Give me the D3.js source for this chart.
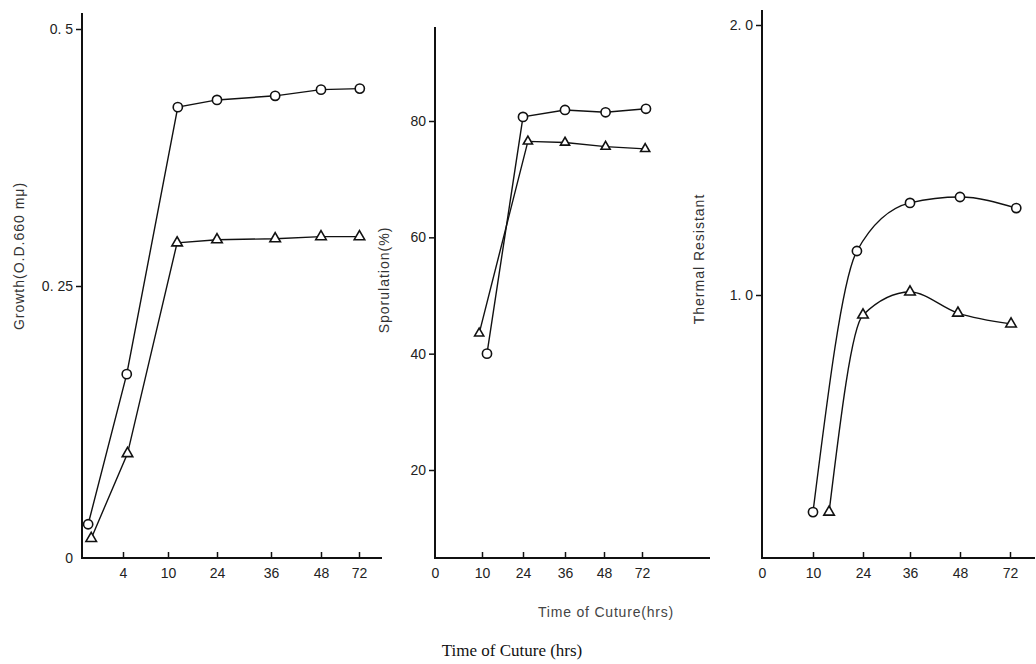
<!DOCTYPE html>
<html>
<head>
<meta charset="utf-8">
<script src="https://cdn.jsdelivr.net/npm/d3@7"></script>
<style>
  body { margin: 0; background: #fff; }
  svg { display: block; }
</style>
</head>
<body>
<svg id="chart"></svg>
<script>
// ---- data ----
// Growth (O.D. 660 mμ)
const growthCircleHours = [0.6, 4.5, 12.8, 24, 37, 48, 72.5];
const growthCircle = [0.031, 0.169, 0.424, 0.431, 0.435, 0.441, 0.442];
const growthTriangleHours = [0.9, 4.6, 12.6, 24, 37, 48, 72.3];
const growthTriangle = [0.018, 0.096, 0.292, 0.295, 0.296, 0.298, 0.298];

// Sporulation (%)
const sporCircleHours = [11.7, 24, 36, 49, 74.5];
const sporCircle = [40, 80.7, 81.9, 81.5, 82.1];
const sporTriangleHours = [9.4, 25.4, 36, 49, 74];
const sporTriangle = [43.5, 76.5, 76.3, 75.6, 75.2];

// Thermal resistant
const thermCircleHours = [10, 22.3, 36, 48, 75];
const thermCircle = [0.196, 1.163, 1.341, 1.363, 1.322];
const thermTriangleHours = [14.5, 24, 36, 47.5, 72.5];
const thermTriangle = [0.196, 0.926, 1.011, 0.933, 0.893];

// axis ticks
const growthXTicks = [4, 10, 24, 36, 48, 72];
const growthYTicks = [0, 0.25, 0.5];
const growthYLabels = ['0', '0. 25', '0. 5'];
const sporXTicks = [0, 10, 24, 36, 48, 72];
const sporYTicks = [20, 40, 60, 80];
const thermXTicks = [0, 10, 24, 36, 48, 72];
const thermYTicks = [1, 2];
const thermYLabels = ['1. 0', '2. 0'];

const width = 1036, height = 664;
const svg = d3.select('#chart').attr('width', width).attr('height', height);

const tickFont = 'Liberation Sans, Arial, sans-serif';

// the time axes are broken (not linear), so each panel uses a piecewise scale
const panels = [
  {
    xScale: d3.scaleLinear().domain([0, 4, 10, 24, 36, 48, 72]).range([82, 123, 168, 217, 271, 321, 359]),
    yScale: d3.scaleLinear().domain([0, 0.25, 0.5]).range([558, 286, 29]),
    left: 82, right: 382, top: 13, bottom: 558,
    xTicks: growthXTicks, yTicks: growthYTicks,
    yFormat: d => growthYLabels[growthYTicks.indexOf(d)],
    series: [
      { hours: growthCircleHours, values: growthCircle, shape: 'circle' },
      { hours: growthTriangleHours, values: growthTriangle, shape: 'triangle' }
    ],
    curve: d3.curveLinear,
    yLabel: 'Growth(O.D.660 mμ)', yLabelX: 20, yLabelY: 256,
    hideZeroYTick: true
  },
  {
    xScale: d3.scaleLinear().domain([0, 10, 24, 36, 48, 72]).range([435, 482, 523, 565, 604, 642]),
    yScale: d3.scaleLinear().domain([20, 80]).range([470, 121]),
    left: 435, right: 710, top: 27, bottom: 558,
    xTicks: sporXTicks, yTicks: sporYTicks,
    yFormat: d => d,
    series: [
      { hours: sporCircleHours, values: sporCircle, shape: 'circle' },
      { hours: sporTriangleHours, values: sporTriangle, shape: 'triangle', size: 36 }
    ],
    curve: d3.curveLinear,
    yLabel: 'Sporulation(%)', yLabelX: 385, yLabelY: 280
  },
  {
    xScale: d3.scaleLinear().domain([0, 10, 24, 36, 48, 72]).range([762, 813, 863, 910, 960, 1010]),
    yScale: d3.scaleLinear().domain([1, 2]).range([295, 25]),
    left: 762, right: 1035, top: 10, bottom: 558,
    xTicks: thermXTicks, yTicks: thermYTicks,
    yFormat: d => thermYLabels[thermYTicks.indexOf(d)],
    series: [
      { hours: thermCircleHours, values: thermCircle, shape: 'circle' },
      { hours: thermTriangleHours, values: thermTriangle, shape: 'triangle' }
    ],
    curve: d3.curveMonotoneX,
    yLabel: 'Thermal Resistant', yLabelX: 700, yLabelY: 259
  }
];

panels.forEach(p => {
  const g = svg.append('g');

  // x axis (ticks point up into the plot)
  const gx = g.append('g')
    .attr('transform', `translate(0, ${p.bottom})`)
    .call(d3.axisBottom(p.xScale).tickValues(p.xTicks).tickSize(-6).tickPadding(10).tickFormat(d3.format('d')));
  gx.select('.domain').remove();
  gx.selectAll('.tick line').attr('stroke', '#111').attr('stroke-width', 1.5)
    .filter(d => d === 0).remove();
  gx.selectAll('text').style('font-family', tickFont).style('font-size', '14px').attr('fill', '#222');

  // y axis
  const gy = g.append('g')
    .attr('transform', `translate(${p.left}, 0)`)
    .call(d3.axisLeft(p.yScale).tickValues(p.yTicks).tickSize(6).tickPadding(3).tickFormat(p.yFormat));
  gy.select('.domain').remove();
  gy.selectAll('.tick line').attr('stroke', '#111').attr('stroke-width', 1.5);
  if (p.hideZeroYTick) gy.selectAll('.tick line').filter(d => d === 0).remove();
  gy.selectAll('text').style('font-family', tickFont).style('font-size', '14px').attr('fill', '#222');

  // axis lines
  g.append('line')
    .attr('x1', p.left).attr('x2', p.left)
    .attr('y1', p.top).attr('y2', p.bottom + 1)
    .attr('stroke', '#111').attr('stroke-width', 2);
  g.append('line')
    .attr('x1', p.left - 1).attr('x2', p.right)
    .attr('y1', p.bottom).attr('y2', p.bottom)
    .attr('stroke', '#111').attr('stroke-width', 2);

  // y label
  g.append('text')
    .attr('transform', `translate(${p.yLabelX}, ${p.yLabelY}) rotate(-90)`)
    .attr('text-anchor', 'middle')
    .attr('dominant-baseline', 'middle')
    .style('font-family', tickFont)
    .style('font-size', '14px')
    .style('letter-spacing', '1px')
    .attr('fill', '#333')
    .text(p.yLabel);

  const line = d3.line()
    .x(d => p.xScale(d[0]))
    .y(d => p.yScale(d[1]))
    .curve(p.curve);

  p.series.forEach(s => {
    const pts = s.hours.map((h, i) => [h, s.values[i]]);
    g.append('path')
      .datum(pts)
      .attr('fill', 'none')
      .attr('stroke', '#111')
      .attr('stroke-width', 1.4)
      .attr('d', line);

    if (s.shape === 'circle') {
      g.selectAll(null)
        .data(pts)
        .enter().append('circle')
        .attr('cx', d => p.xScale(d[0]))
        .attr('cy', d => p.yScale(d[1]))
        .attr('r', 4.6)
        .attr('fill', '#fff')
        .attr('stroke', '#111')
        .attr('stroke-width', 1.6);
    } else {
      g.selectAll(null)
        .data(pts)
        .enter().append('path')
        .attr('transform', d => `translate(${p.xScale(d[0])}, ${p.yScale(d[1])})`)
        .attr('d', d3.symbol().type(d3.symbolTriangle).size(s.size || 48))
        .attr('fill', '#fff')
        .attr('stroke', '#111')
        .attr('stroke-width', 1.6);
    }
  });
});

// x label under middle panel
svg.append('text')
  .attr('x', 606)
  .attr('y', 617)
  .attr('text-anchor', 'middle')
  .style('font-family', tickFont)
  .style('font-size', '14px')
  .style('letter-spacing', '0.8px')
  .attr('fill', '#444')
  .text('Time of Cuture(hrs)');

// overall caption
svg.append('text')
  .attr('x', 512)
  .attr('y', 656)
  .attr('text-anchor', 'middle')
  .style('font-family', 'Liberation Serif, serif')
  .style('font-size', '17px')
  .attr('fill', '#111')
  .text('Time of Cuture (hrs)');
</script>
</body>
</html>
